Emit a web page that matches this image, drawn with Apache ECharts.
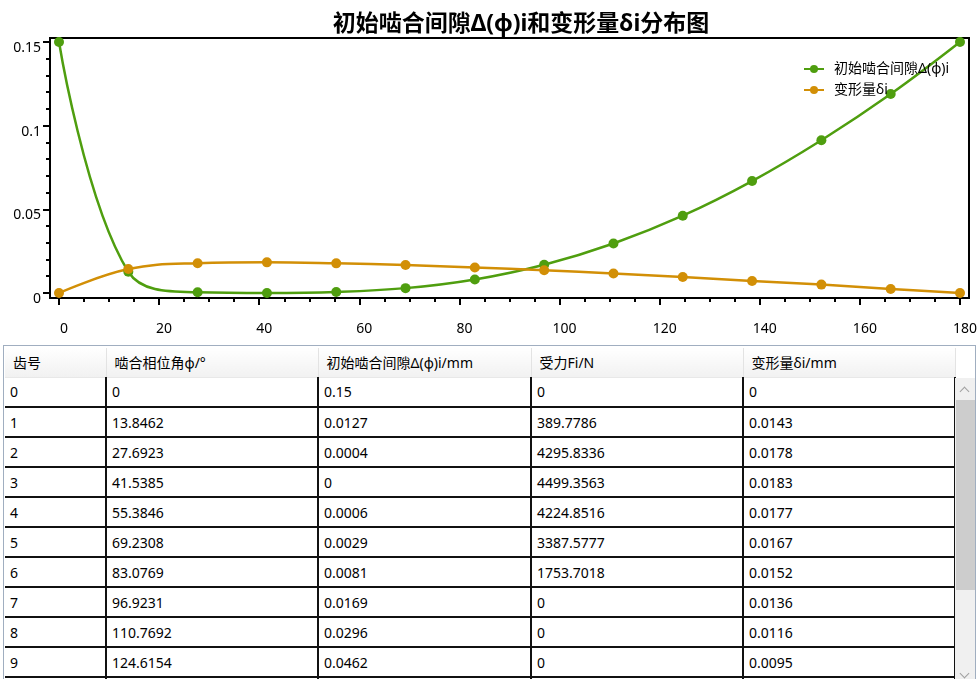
<!DOCTYPE html>
<html>
<head>
<meta charset="utf-8">
<script src="https://cdn.jsdelivr.net/npm/echarts@6/dist/echarts.min.js"></script>
<style>
  body { margin: 0; background: #fff; width: 980px; height: 679px; overflow: hidden; position: relative; }
  #main { position: absolute; left: 0; top: 0; width: 980px; height: 340px; }
  #tableBox { position: absolute; left: 3px; top: 345px; width: 973px; height: 400px; border: 1px solid #a0aec0; box-sizing: border-box; overflow: hidden; }
  table { position: absolute; left: 1px; top: 2px; border-collapse: collapse; table-layout: fixed;
    font-family: "Noto Sans", "Noto Sans CJK SC", sans-serif; font-size: 14px; color: #000; }
  th { height: 29px; font-weight: normal; text-align: left; padding: 0 0 0 8px;
    background: linear-gradient(#ffffff, #f1f1f1); border-right: 1px solid #e3e3e3; border-bottom: 1px solid #e8e8e8; box-sizing: border-box; }
  td { height: 30px; padding: 0 0 0 5px; border-right: 2px solid #111; border-bottom: 2px solid #111; box-sizing: border-box; white-space: nowrap; }
  #scroll { position: absolute; left: 951px; top: 32px; width: 21px; height: 400px; background: #f0f0f0; }
  #thumb { position: absolute; left: 1px; top: 22px; width: 19px; height: 190px; background: #cdcdcd; }
  .arrow { position: absolute; left: 6px; width: 6px; height: 6px; border-left: 1.5px solid #a0a0a0; border-top: 1.5px solid #a0a0a0; }
</style>
</head>
<body>
<div id="main"></div>
<div id="tableBox">
  <table id="tbl"></table>
  <div id="scroll"><div class="arrow" style="top:10px; transform: rotate(45deg);"></div><div id="thumb"></div>
    <div class="arrow" style="top:292px; transform: rotate(225deg);"></div></div>
</div>
<script>
var teeth = [0, 1, 2, 3, 4, 5, 6, 7, 8, 9, 10, 11, 12, 13];
var phase = [0, 13.8462, 27.6923, 41.5385, 55.3846, 69.2308, 83.0769, 96.9231, 110.7692, 124.6154, 138.4615, 152.3077, 166.1538, 180];
var gap = [0.15, 0.0127, 0.0004, 0, 0.0006, 0.0029, 0.0081, 0.0169, 0.0296, 0.0462, 0.0669, 0.0913, 0.1189, 0.15];
var force = [0, 389.7786, 4295.8336, 4499.3563, 4224.8516, 3387.5777, 1753.7018, 0, 0, 0, 0, 0, 0, 0];
var deform = [0, 0.0143, 0.0178, 0.0183, 0.0177, 0.0167, 0.0152, 0.0136, 0.0116, 0.0095, 0.0072, 0.005, 0.0024, 0];
var headers = ['齿号', '啮合相位角φ/°', '初始啮合间隙Δ(φ)i/mm', '受力Fi/N', '变形量δi/mm'];
var colWidths = [101, 212, 213, 212, 212];

// axis ticks
var xMajor = [0, 20, 40, 60, 80, 100, 120, 140, 160, 180];
var xMinor = [5, 10, 15, 25, 30, 35, 45, 50, 55, 65, 70, 75, 85, 90, 95, 105, 110, 115,
    125, 130, 135, 145, 150, 155, 165, 170, 175];
var yMajor = [0, 0.05, 0.1, 0.15];
var yMinor = [0.01, 0.02, 0.03, 0.04, 0.06, 0.07, 0.08, 0.09, 0.11, 0.12, 0.13, 0.14];

var font = '"Noto Sans", "Noto Sans CJK SC", sans-serif';

// table
var tbl = document.getElementById('tbl');
var html = '<colgroup>';
colWidths.forEach(function (w) { html += '<col style="width:' + w + 'px">'; });
html += '</colgroup><tr>';
headers.forEach(function (h) { html += '<th>' + h + '</th>'; });
html += '</tr>';
for (var i = 0; i < teeth.length; i++) {
    html += '<tr><td>' + teeth[i] + '</td><td>' + phase[i] + '</td><td>' + gap[i] +
        '</td><td>' + force[i] + '</td><td>' + deform[i] + '</td></tr>';
}
tbl.innerHTML = html;

// chart
var myChart = echarts.init(document.getElementById('main'));

function pairs(xs, ys) {
    return xs.map(function (x, i) { return [x, ys[i]]; });
}

var tickStyle = { color: '#000', width: 2 };
var xRange = { min: -1.8, max: 181.8 };
var yRange = { min: -0.003, max: 0.1524 };

var option = {
    animation: false,
    title: {
        text: '初始啮合间隙Δ(φ)i和变形量δi分布图',
        left: 516,
        top: 8,
        textAlign: 'center',
        textStyle: { fontSize: 23, fontWeight: 'bold', color: '#000', fontFamily: font }
    },
    legend: {
        orient: 'vertical',
        left: 803,
        top: 62,
        padding: 0,
        itemWidth: 20,
        itemHeight: 10,
        itemGap: 7,
        textStyle: { fontSize: 14, lineHeight: 14, color: '#000', fontFamily: font, padding: [0, 0, 0, 5] }
    },
    grid: { left: 50, right: 8, top: 38, bottom: 42, show: true, borderColor: '#000', borderWidth: 2 },
    xAxis: [{
        type: 'value',
        position: 'bottom',
        min: xRange.min,
        max: xRange.max,
        axisLine: { show: false, onZero: false },
        axisTick: { show: true, length: 7, customValues: xMajor, lineStyle: tickStyle },
        splitLine: { show: false },
        axisLabel: { customValues: xMajor, margin: 24, fontSize: 14, color: '#000', fontFamily: font, padding: [0, 0, 0, 10] }
    }, {
        type: 'value',
        position: 'bottom',
        min: xRange.min,
        max: xRange.max,
        axisLine: { show: false, onZero: false },
        axisTick: { show: true, length: 4, customValues: xMinor, lineStyle: tickStyle },
        splitLine: { show: false },
        axisLabel: { show: false }
    }],
    yAxis: [{
        type: 'value',
        position: 'left',
        min: yRange.min,
        max: yRange.max,
        axisLine: { show: false, onZero: false },
        axisTick: { show: true, length: 7, customValues: yMajor, lineStyle: tickStyle },
        splitLine: { show: false },
        axisLabel: { customValues: yMajor, margin: 9, fontSize: 14, lineHeight: 12, verticalAlign: 'top', color: '#000', fontFamily: font }
    }, {
        type: 'value',
        position: 'left',
        min: yRange.min,
        max: yRange.max,
        axisLine: { show: false, onZero: false },
        axisTick: { show: true, length: 4, customValues: yMinor, lineStyle: tickStyle },
        splitLine: { show: false },
        axisLabel: { show: false }
    }],
    series: [{
        name: '初始啮合间隙Δ(φ)i',
        type: 'line',
        data: pairs(phase, gap),
        smooth: 0.4,
        symbol: 'circle',
        symbolSize: 10,
        color: '#4f9e0f',
        lineStyle: { width: 2.5 }
    }, {
        name: '变形量δi',
        type: 'line',
        data: pairs(phase, deform),
        smooth: 0.4,
        symbol: 'circle',
        symbolSize: 10,
        color: '#d28f06',
        lineStyle: { width: 2.5 }
    }]
};

myChart.setOption(option);
</script>
</body>
</html>
